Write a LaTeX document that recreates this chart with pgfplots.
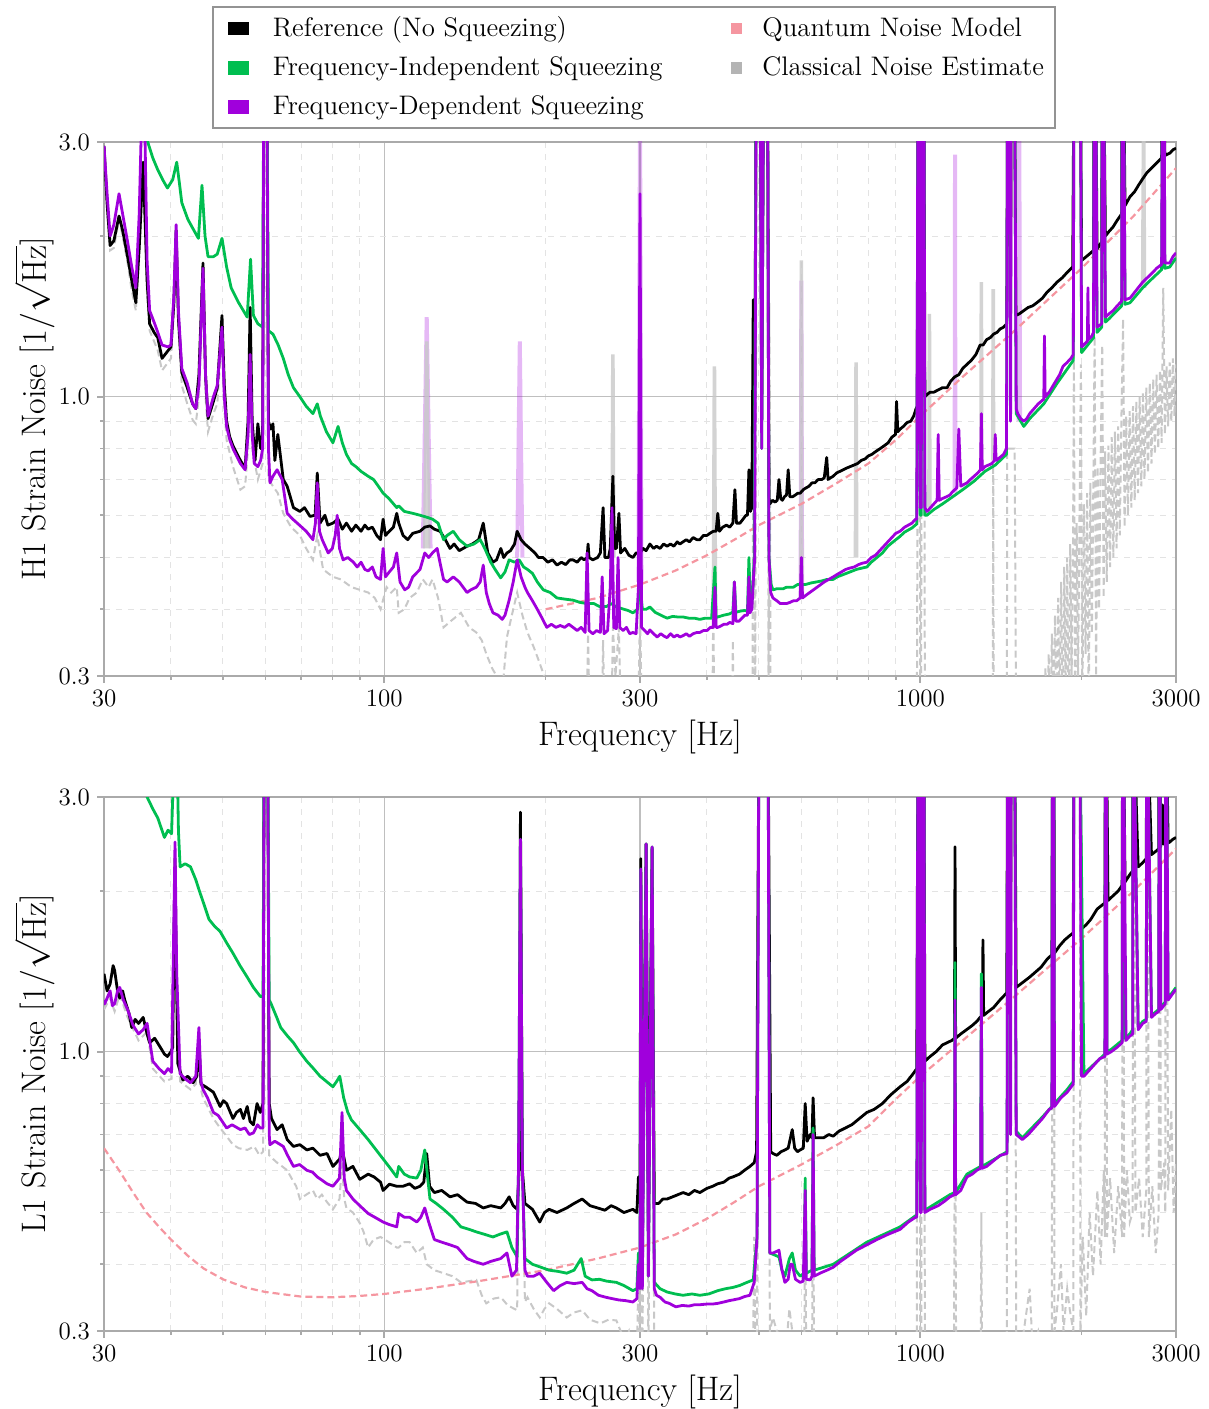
\documentclass[border=0pt]{standalone}
\usepackage{pgfplots}
\pgfplotsset{compat=1.18}
\definecolor{fis}{RGB}{0,190,80}
\definecolor{fds}{RGB}{160,0,220}
\definecolor{qn}{RGB}{245,150,160}
\definecolor{cn}{RGB}{200,200,200}
\definecolor{axgray}{RGB}{170,170,170}
\begin{document}
\begin{tikzpicture}
\path[use as bounding box] (0,0) rectangle (604.5pt,704.5pt);
% ================= H1 =================
\begin{axis}[
  scale only axis, width=536pt, height=267pt,
  xmode=log, ymode=log, xmin=30, xmax=3000, ymin=0.3, ymax=3,
  xtick={30,100,300,1000,3000}, xticklabels={30,100,300,1000,3000},
  ytick={0.3,1,3}, yticklabels={0.3,1.0,3.0},
  minor xtick={40,50,60,70,80,90,200,400,500,600,700,800,900,2000},
  minor ytick={0.4,0.5,0.6,0.7,0.8,0.9,2},
  grid=both,
  minor grid style={dashed, draw=gray!22, line width=0.5pt},
  major grid style={solid, draw=gray!50, line width=0.6pt},
  tick align=outside, xtick pos=bottom, ytick pos=left,
  major tick length=3.5pt, minor tick length=2pt,
  tick style={draw=axgray, line width=0.8pt},
  axis line style={draw=axgray, line width=1pt},
  tick label style={font=\fontsize{12.5}{14}\selectfont},
  label style={font=\fontsize{17}{20}\selectfont},
  xlabel={Frequency [Hz]},
  xlabel style={at={(axis description cs:0.5,-0.115)}, anchor=center},
  ylabel style={at={(axis description cs:-0.065,0.5)}, anchor=center, inner sep=0pt},
  unbounded coords=jump,
  at={(52pt,366.5pt)}, anchor=south west,
  ylabel={H1 Strain Noise [$1/\sqrt{\mathrm{Hz}}$]},
  legend columns=2,
  legend cell align=left,
  legend style={at={(axis description cs:0.1007,1.2547)}, anchor=north west,
    draw=gray!85, line width=0.9pt, fill=white, inner xsep=5.5pt, inner ysep=3pt,
    font=\fontsize{13.4}{16}\selectfont,
    nodes={inner xsep=0pt, inner ysep=2pt},
    row sep=4.5pt},
]
\addlegendimage{legend image code/.code={\path[draw=none] (-2.5pt,0pt) -- (0pt,0pt); \fill[black] (0pt,-3pt) rectangle (9.5pt,3pt); \path[draw=none] (9.5pt,0pt) -- (22pt,0pt);}}
\addlegendentry{Reference (No Squeezing)}
\addlegendimage{legend image code/.code={\path[draw=none] (-34.5pt,0pt) -- (0pt,0pt); \fill[qn] (0pt,-2.5pt) rectangle (5pt,2.5pt); \path[draw=none] (5pt,0pt) -- (15.5pt,0pt);}}
\addlegendentry{Quantum Noise Model}
\addlegendimage{legend image code/.code={\path[draw=none] (-2.5pt,0pt) -- (0pt,0pt); \fill[fis] (0pt,-3pt) rectangle (9.5pt,3pt); \path[draw=none] (9.5pt,0pt) -- (22pt,0pt);}}
\addlegendentry{Frequency-Independent Squeezing}
\addlegendimage{legend image code/.code={\path[draw=none] (-34.5pt,0pt) -- (0pt,0pt); \fill[cn!90!black] (0pt,-2.5pt) rectangle (5pt,2.5pt); \path[draw=none] (5pt,0pt) -- (15.5pt,0pt);}}
\addlegendentry{Classical Noise Estimate}
\addlegendimage{legend image code/.code={\path[draw=none] (-2.5pt,0pt) -- (0pt,0pt); \fill[fds] (0pt,-3pt) rectangle (9.5pt,3pt); \path[draw=none] (9.5pt,0pt) -- (22pt,0pt);}}
\addlegendentry{Frequency-Dependent Squeezing}

% faded line overlays
\addplot[fds, opacity=0.28, line width=2pt, forget plot] coordinates {
(118,0.52) (120,1.41) (122,0.52) (122,nan) (177,0.5) (179,1.27) (181,0.5) (181,nan)
(298,0.45) (300,3.5) (302,0.45) (302,nan) (598,0.42) (600,1.65) (602,0.42) (602,nan)
(1159,0.66) (1161,2.84) (1163,0.66) (1163,nan) (1525,0.9) (1530,3.5) (1535,0.9)};
\addplot[cn, opacity=0.8, line width=1.8pt, forget plot] coordinates {
(119,0.52) (120,1.27) (121,0.52) (121,nan) (266,0.5) (267,1.2) (268,0.5) (268,nan)
(411,0.37) (413,1.14) (415,0.37) (415,nan) (599,0.42) (600,1.8) (601,0.42) (601,nan)
(757,0.5) (759,1.16) (761,0.5) (761,nan) (1038,0.62) (1040,1.43) (1042,0.62) (1042,nan)
(1298,0.73) (1300,1.64) (1302,0.73) (1302,nan) (1366,0.76) (1368,1.59) (1370,0.76) (1370,nan)
(2600,1.6) (2610,3.5) (2620,1.6)};

% classical noise
\addplot[cn, line width=1pt, dash pattern=on 3.5pt off 2pt, forget plot] coordinates {
(30,2.9) (30.4,2.25) (30.8,1.88) (31.3,1.9) (32,2.15) (32.5,2.0) (33.2,1.78) (33.8,1.58) (34.4,1.45) (34.9,1.85) (35.5,2.6) (36.1,1.55) (36.5,1.33) (37.2,1.27) (37.8,1.22) (38.5,1.12) (39.5,1.16) (40,1.18) (40.5,1.45) (40.9,1.9) (41.3,1.35) (41.9,1.05) (42.9,0.97) (43.9,0.905) (44.5,0.89) (45.1,1.0) (45.9,1.6) (46.4,1.0) (46.9,0.86) (48,0.93) (48.8,0.97) (49.8,1.3) (50.3,0.95) (50.8,0.83) (52.2,0.74) (53.9,0.67) (55,0.68) (55.7,0.8) (56.2,1.2) (56.7,0.8) (58.1,0.70) (59.3,0.75) (59.6,4) (60.4,4) (60.8,0.7) (62,0.68) (63.3,0.66) (64.8,0.605) (67,0.57) (69.6,0.55) (71.5,0.52) (73.6,0.495) (75,0.55) (76.9,0.475) (80.2,0.46) (83,0.455) (86.9,0.44) (90,0.435) (93.3,0.43) (96,0.42) (98.4,0.40) (101,0.44) (103,0.43) (105.5,0.44) (106.4,0.394) (109,0.4) (111.5,0.42) (115,0.43) (118,0.455) (121,0.44) (123,0.455) (126,0.42) (129,0.37) (133,0.38) (139,0.394) (144,0.37) (148.5,0.362) (152,0.35) (155,0.33) (159,0.31) (162,0.30) (165,0.27) (167,0.3) (169.4,0.355) (173,0.39) (177,0.43) (181,0.39) (185,0.362) (190,0.34) (195,0.317) (201,0.29) (206,0.26) (210,0.22) (238,0.22) (240,0.36) (242,0.22) (254,0.22) (256,0.35) (258,0.22) (265,0.22) (267,0.37) (270,0.3) (274,0.37) (277,0.22) (297,0.22) (300,0.4) (303,0.22) (409,0.22) (411,0.42) (413,0.22) (445,0.22) (447,0.35) (449,0.22) (486,0.22) (489,1.5) (492,0.22) (495,4) (519,4) (521,0.22) (523,1.5) (526,0.22) (985,0.22) (988,0.6) (991,4) (996,4) (1000,0.22) (1003,0.22) (1008,4) (1016,4) (1020,0.22) (1365,0.22) (1368,0.75) (1371,0.22) (1450,0.22) (1453,0.8) (1470,0.8) (1478,0.8) (1500,0.8) (1510,0.22) (1700,0.22) (1712,0.31) (1724,0.24) (1736,0.33) (1748,0.22) (1760,0.36) (1772,0.25) (1784,0.39) (1796,0.22) (1808,0.42) (1820,0.26) (1832,0.45) (1844,0.22) (1856,0.48) (1868,0.28) (1880,0.5) (1892,0.22) (1904,0.53) (1916,0.3) (1928,0.55) (1935,1.2) (1945,0.25) (1958,0.58) (1970,0.3) (1982,0.6) (1994,1.15) (2006,0.25) (2020,0.63) (2034,0.33) (2048,0.66) (2062,0.25) (2076,0.69) (2090,0.36) (2104,0.71) (2115,1.3) (2128,0.3) (2142,0.74) (2156,0.4) (2170,0.76) (2185,1.25) (2198,0.42) (2212,0.79) (2228,0.45) (2244,0.81) (2260,0.48) (2276,0.84) (2292,0.5) (2308,0.86) (2324,0.52) (2340,0.88) (2356,0.55) (2372,0.9) (2390,1.4) (2405,0.57) (2422,0.92) (2440,0.6) (2458,0.94) (2476,0.62) (2494,0.96) (2512,0.64) (2530,0.98) (2548,0.66) (2566,1.0) (2584,0.68) (2602,1.02) (2620,0.7) (2640,1.04) (2660,0.72) (2680,1.06) (2700,0.75) (2720,1.08) (2740,0.78) (2760,1.1) (2780,0.8) (2800,1.12) (2820,0.82) (2840,1.6) (2860,0.85) (2880,1.14) (2900,0.88) (2920,1.16) (2940,0.9) (2960,1.18) (2980,0.92) (3000,1.15)};

% quantum noise model
\addplot[qn, line width=1.1pt, dash pattern=on 3.5pt off 2pt, forget plot] coordinates {
(200,0.40) (250,0.42) (300,0.445) (350,0.473) (400,0.505) (450,0.54) (500,0.575) (600,0.63) (700,0.69) (800,0.75) (900,0.83) (1000,0.92) (1200,1.09) (1500,1.33) (2000,1.74) (2500,2.18) (3000,2.68)};

% reference
\addplot[black, line width=1.4pt, line join=round, forget plot] coordinates {
(30,2.95) (30.4,2.3) (30.8,1.92) (31.3,1.96) (32,2.18) (32.5,2.05) (33.2,1.83) (33.8,1.65) (34.4,1.5) (34.9,1.9) (35.5,2.75) (36.1,1.65) (36.5,1.37) (37.2,1.32) (37.8,1.29) (38.5,1.18) (39.5,1.22) (40,1.24) (40.5,1.5) (40.9,2.05) (41.3,1.4) (41.9,1.11) (42.9,1.04) (43.9,0.97) (44.5,0.95) (45.1,1.1) (45.9,1.78) (46.4,1.1) (46.9,0.91) (48,0.98) (48.8,1.04) (49.8,1.42) (50.3,1.05) (50.8,0.90) (51.5,0.84) (52.2,0.81) (53.9,0.76) (55,0.735) (55.7,0.9) (56.2,1.47) (56.7,0.9) (57.4,0.76) (58.1,0.89) (58.8,0.8) (59.3,0.85) (59.6,4) (60.4,4) (60.8,0.9) (61.4,0.87) (62,0.89) (62.5,0.76) (63.3,0.85) (64.8,0.70) (65.9,0.68) (67.7,0.62) (69.6,0.61) (71,0.62) (72.7,0.597) (74.3,0.6) (75,0.72) (75.9,0.58) (77.5,0.6) (78.5,0.575) (80.2,0.58) (82,0.59) (83.5,0.565) (85,0.58) (86.9,0.56) (88.5,0.575) (90.5,0.56) (92,0.575) (93.3,0.565) (95,0.57) (96.8,0.55) (98.4,0.54) (99.5,0.59) (100.5,0.55) (102.2,0.56) (104,0.57) (105.5,0.605) (106.4,0.58) (108.4,0.55) (110.6,0.54) (113,0.555) (116.6,0.56) (119,0.57) (121.7,0.573) (124,0.565) (127.1,0.56) (130,0.54) (132.6,0.52) (135,0.53) (138,0.515) (142.7,0.525) (146,0.53) (150,0.54) (153,0.58) (156,0.51) (159.5,0.49) (162,0.495) (165,0.52) (167,0.5) (169.4,0.51) (172,0.515) (175,0.53) (177,0.56) (180,0.54) (183,0.53) (187,0.52) (191,0.51) (194,0.5) (197.8,0.50) (202,0.49) (206,0.495) (210,0.484) (214,0.49) (218,0.485) (222,0.495) (225,0.495) (229,0.49) (233,0.5) (236,0.495) (239,0.5) (240,0.53) (241,0.5) (245,0.495) (250,0.5) (253,0.51) (256,0.62) (258,0.5) (262,0.50) (264,0.52) (267,0.71) (269,0.52) (271,0.52) (274,0.605) (276,0.51) (281,0.52) (286,0.505) (291,0.50) (295,0.51) (300,0.51) (304,0.52) (308,0.515) (313,0.53) (318,0.52) (322,0.525) (327,0.52) (332,0.53) (337,0.525) (342,0.53) (347,0.525) (352,0.535) (356,0.53) (361,0.535) (366,0.54) (371,0.535) (377,0.545) (383,0.54) (388,0.54) (394,0.55) (400,0.55) (405,0.555) (411,0.56) (416,0.56) (419,0.605) (422,0.56) (428,0.57) (435,0.575) (441,0.57) (447,0.58) (451,0.67) (454,0.58) (461,0.58) (467,0.59) (473,0.6) (476,0.6) (479,0.73) (482,0.61) (485,0.62) (488,1.52) (491,0.9) (494,4) (503,4) (506,0.9) (510,4) (519,4) (522,0.65) (524,0.63) (530,0.64) (536,0.635) (541,0.64) (545,0.70) (549,0.645) (553,0.64) (558,0.65) (563,0.655) (567,0.73) (571,0.65) (578,0.65) (585,0.655) (591,0.66) (597,0.66) (605,0.67) (612,0.675) (620,0.68) (628,0.69) (636,0.69) (645,0.7) (655,0.70) (662,0.705) (669,0.77) (673,0.7) (680,0.705) (688,0.71) (698,0.72) (708,0.725) (718,0.73) (728,0.735) (740,0.74) (752,0.745) (764,0.75) (776,0.76) (789,0.765) (800,0.775) (812,0.78) (826,0.79) (842,0.80) (857,0.81) (871,0.82) (885,0.84) (899,0.85) (903,0.98) (908,0.86) (917,0.87) (930,0.88) (945,0.895) (960,0.9) (972,0.92) (982,0.95) (987,0.96) (990,4) (996,4) (1000,0.97) (1004,0.98) (1008,4) (1016,4) (1020,1.0) (1030,1.01) (1043,1.02) (1060,1.02) (1080,1.03) (1100,1.04) (1122,1.04) (1140,1.07) (1160,1.09) (1180,1.1) (1200,1.13) (1222,1.15) (1245,1.17) (1270,1.2) (1293,1.25) (1310,1.25) (1330,1.28) (1350,1.29) (1370,1.31) (1390,1.32) (1410,1.34) (1430,1.35) (1450,1.37) (1455,4) (1470,4) (1474,1.4) (1478,4) (1500,4) (1508,1.42) (1530,1.43) (1560,1.45) (1590,1.47) (1620,1.48) (1650,1.5) (1690,1.53) (1724,1.57) (1760,1.6) (1800,1.64) (1840,1.67) (1880,1.71) (1902,1.73) (1925,1.75) (1935,4) (1990,4) (2000,1.8) (2040,1.83) (2080,1.86) (2105,1.88) (2110,4) (2125,4) (2137,1.89) (2180,1.95) (2185,4) (2200,4) (2215,2.0) (2250,2.04) (2289,2.08) (2330,2.14) (2375,2.2) (2380,4) (2395,4) (2410,2.28) (2462,2.37) (2510,2.42) (2560,2.5) (2600,2.56) (2649,2.63) (2700,2.68) (2760,2.74) (2820,2.8) (2830,4) (2850,4) (2860,2.83) (2923,2.86) (2960,2.9) (3000,2.92)};

% frequency-independent
\addplot[fis, line width=1.4pt, line join=round, forget plot] coordinates {
(30,5) (33,4) (35.5,3.4) (36.2,3.0) (37,2.8) (37.8,2.66) (38.6,2.55) (39.4,2.46) (40.3,2.55) (41,2.75) (41.5,2.5) (41.9,2.31) (43,2.15) (43.9,2.07) (45,1.98) (45.7,2.49) (46.3,2.0) (46.9,1.83) (48,1.83) (48.8,1.85) (49.8,1.98) (50.8,1.75) (51.8,1.60) (53.5,1.5) (55.5,1.41) (56.3,1.81) (57,1.42) (58.1,1.37) (59.3,1.35) (59.6,4) (60.4,4) (60.8,1.33) (62,1.31) (63.4,1.25) (64.8,1.18) (66.2,1.1) (67.7,1.04) (69.6,1.0) (71.5,0.96) (73.6,0.93) (75,0.97) (76,0.92) (78,0.86) (80.2,0.82) (82,0.88) (83.5,0.82) (85,0.78) (86.9,0.75) (88.5,0.74) (90.5,0.725) (93.3,0.71) (95.5,0.7) (97.5,0.68) (99.5,0.66) (102,0.645) (105.5,0.62) (106.4,0.625) (109,0.61) (113,0.605) (116.6,0.60) (120,0.595) (123,0.59) (126,0.58) (129,0.54) (131,0.55) (134.5,0.56) (138,0.54) (142.7,0.525) (147,0.53) (151,0.54) (154,0.52) (158,0.49) (161,0.475) (164.9,0.458) (168,0.47) (171,0.495) (175,0.49) (178.5,0.495) (182,0.48) (185,0.475) (189,0.467) (193,0.45) (198,0.435) (204,0.43) (210,0.42) (217,0.418) (225,0.416) (232,0.412) (239,0.41) (246,0.41) (253,0.404) (260,0.405) (265,0.41) (271,0.404) (280,0.4) (285,0.398) (291,0.394) (297,0.4) (300,0.45) (303,0.4) (308,0.4) (313,0.404) (320,0.395) (328,0.39) (337,0.385) (345,0.388) (353,0.387) (361,0.387) (370,0.385) (379,0.385) (388,0.383) (397,0.385) (408,0.385) (414,0.48) (416,0.386) (419,0.387) (430,0.39) (440,0.392) (447,0.395) (450,0.45) (453,0.395) (462,0.397) (470,0.398) (476,0.397) (479,0.50) (482,0.4) (486,0.42) (490,0.5) (494,4) (503,4) (506,0.8) (510,4) (519,4) (522,0.5) (527,0.445) (531,0.435) (540,0.437) (548,0.437) (555,0.437) (563,0.44) (572,0.44) (580,0.44) (590,0.445) (597,0.445) (610,0.445) (625,0.448) (640,0.45) (655,0.452) (670,0.455) (688,0.455) (700,0.46) (720,0.465) (740,0.47) (760,0.475) (780,0.478) (795,0.48) (810,0.49) (830,0.5) (850,0.51) (870,0.525) (890,0.535) (917,0.548) (935,0.558) (950,0.563) (965,0.568) (985,0.578) (990,4) (996,4) (1000,0.6) (1004,0.6) (1008,4) (1016,4) (1020,0.6) (1029,0.6) (1060,0.615) (1100,0.63) (1150,0.65) (1200,0.67) (1260,0.695) (1320,0.725) (1380,0.745) (1448,0.78) (1455,4) (1500,4) (1510,0.93) (1560,0.88) (1600,0.91) (1700,0.97) (1800,1.06) (1930,1.17) (1935,4) (1990,4) (2000,1.21) (2105,1.29) (2110,4) (2125,4) (2137,1.32) (2180,1.35) (2185,4) (2200,4) (2215,1.38) (2250,1.4) (2375,1.48) (2380,4) (2395,4) (2410,1.49) (2462,1.5) (2600,1.6) (2700,1.66) (2820,1.73) (2830,4) (2850,4) (2860,1.74) (2920,1.75) (3000,1.82)};

% frequency-dependent
\addplot[fds, line width=1.4pt, line join=round, forget plot] coordinates {
(30,2.95) (30.4,2.4) (30.8,2.0) (31.3,2.1) (32,2.4) (32.5,2.2) (33.2,1.95) (33.8,1.75) (34.4,1.6) (34.9,2.2) (35.3,3.5) (35.7,3.5) (36.1,1.8) (36.5,1.45) (37.2,1.38) (37.8,1.32) (38.5,1.25) (39.5,1.24) (40,1.25) (40.5,1.55) (40.9,2.1) (41.3,1.45) (41.9,1.13) (42.9,1.06) (43.9,0.97) (44.5,0.95) (45.1,1.05) (45.9,1.74) (46.4,1.1) (46.9,0.92) (48,1.0) (48.8,1.05) (49.8,1.35) (50.3,1.0) (50.8,0.88) (51.5,0.83) (52.2,0.80) (53.9,0.75) (55,0.73) (55.7,0.85) (56.2,1.2) (56.7,0.85) (57.2,0.75) (58.1,0.74) (58.8,0.76) (59.3,0.8) (59.6,4) (60.4,4) (60.8,0.8) (61.2,0.69) (62,0.71) (63.1,0.73) (64.5,0.70) (65.9,0.605) (67.5,0.59) (69.6,0.574) (71.5,0.56) (73.6,0.54) (74.4,0.58) (75,0.69) (75.7,0.56) (76.6,0.54) (78.6,0.51) (80,0.52) (81,0.55) (81.7,0.60) (82.5,0.52) (83.8,0.495) (85.5,0.5) (87.6,0.49) (89,0.48) (90.5,0.49) (92,0.475) (93.3,0.472) (95,0.48) (96.5,0.46) (98.4,0.455) (99.5,0.52) (100.5,0.46) (102.2,0.47) (104,0.48) (105.5,0.51) (107,0.45) (109.2,0.435) (111,0.44) (113,0.46) (116.6,0.475) (119,0.51) (121,0.5) (123,0.51) (125.5,0.52) (127,0.49) (129,0.455) (131,0.45) (134.5,0.46) (138,0.45) (142.7,0.43) (145,0.435) (148.5,0.44) (151,0.45) (153,0.484) (155,0.43) (157,0.41) (159.5,0.394) (163,0.39) (166,0.383) (168,0.39) (171,0.416) (174,0.45) (177,0.495) (180,0.46) (183,0.44) (185,0.43) (189,0.415) (193,0.40) (197,0.385) (201,0.37) (205,0.375) (209,0.37) (213,0.373) (217,0.37) (221,0.375) (225,0.37) (229,0.365) (233,0.37) (237,0.362) (239,0.51) (241,0.365) (245,0.36) (249,0.365) (253,0.362) (255,0.46) (257,0.36) (261,0.365) (264,0.44) (266,0.62) (268,0.37) (271,0.368) (273,0.5) (275,0.37) (279,0.365) (283,0.37) (287,0.36) (291,0.362) (295,0.36) (298,0.44) (300,2.4) (302,0.37) (306,0.365) (310,0.36) (313,0.366) (318,0.36) (323,0.355) (328,0.36) (333,0.356) (337,0.354) (342,0.36) (347,0.355) (352,0.358) (356,0.355) (361,0.357) (366,0.36) (371,0.356) (377,0.36) (383,0.362) (388,0.362) (394,0.365) (400,0.365) (406,0.37) (411,0.37) (414,0.44) (416,0.37) (419,0.37) (424,0.372) (430,0.375) (436,0.375) (441,0.378) (447,0.376) (450,0.45) (453,0.38) (459,0.38) (465,0.385) (471,0.39) (476,0.39) (479,0.46) (481,0.394) (485,0.4) (488,0.45) (491,0.5) (494,4) (503,4) (506,0.8) (510,4) (519,4) (522,0.5) (526,0.43) (531,0.42) (540,0.415) (548,0.41) (555,0.41) (563,0.41) (571,0.412) (580,0.415) (588,0.415) (597,0.42) (600,0.5) (603,0.42) (612,0.425) (622,0.43) (632,0.435) (642,0.44) (652,0.445) (662,0.45) (675,0.455) (688,0.46) (700,0.465) (713,0.47) (726,0.475) (740,0.478) (753,0.48) (767,0.485) (780,0.488) (795,0.49) (810,0.5) (825,0.505) (840,0.515) (855,0.525) (870,0.535) (885,0.545) (900,0.555) (917,0.56) (935,0.57) (950,0.575) (965,0.58) (980,0.59) (985,0.59) (990,4) (996,4) (1000,0.62) (1004,0.62) (1008,4) (1016,4) (1020,0.62) (1029,0.61) (1045,0.62) (1060,0.63) (1075,0.64) (1080,0.85) (1085,0.64) (1100,0.645) (1120,0.65) (1136,0.655) (1150,0.665) (1170,0.675) (1180,0.87) (1190,0.68) (1205,0.685) (1222,0.69) (1240,0.70) (1260,0.71) (1280,0.72) (1295,0.73) (1300,0.93) (1305,0.73) (1320,0.74) (1340,0.745) (1360,0.75) (1375,0.76) (1380,0.85) (1385,0.76) (1408,0.77) (1430,0.78) (1448,0.8) (1455,4) (1470,4) (1474,0.9) (1478,4) (1500,4) (1510,0.95) (1520,0.93) (1540,0.91) (1560,0.90) (1580,0.91) (1600,0.93) (1630,0.95) (1660,0.97) (1700,0.99) (1705,1.3) (1710,1.0) (1740,1.02) (1780,1.06) (1820,1.1) (1846,1.14) (1880,1.16) (1910,1.18) (1930,1.2) (1935,4) (1990,4) (2000,1.24) (2050,1.27) (2055,1.6) (2060,1.28) (2090,1.3) (2105,1.32) (2110,4) (2125,4) (2137,1.35) (2180,1.37) (2185,4) (2200,4) (2215,1.41) (2250,1.43) (2290,1.45) (2330,1.48) (2375,1.51) (2380,4) (2395,4) (2410,1.52) (2462,1.53) (2500,1.56) (2550,1.6) (2600,1.64) (2650,1.67) (2700,1.7) (2760,1.74) (2820,1.77) (2830,4) (2850,4) (2860,1.78) (2920,1.78) (2960,1.83) (3000,1.86)};
\node[anchor=south west, inner sep=1pt, yshift=2pt, font=\fontsize{12.5}{14}\selectfont] at (rel axis cs:0,1) {$\times10^{-23}$};
\end{axis}

% ================= L1 =================
\begin{axis}[
  scale only axis, width=536pt, height=267pt,
  xmode=log, ymode=log, xmin=30, xmax=3000, ymin=0.3, ymax=3,
  xtick={30,100,300,1000,3000}, xticklabels={30,100,300,1000,3000},
  ytick={0.3,1,3}, yticklabels={0.3,1.0,3.0},
  minor xtick={40,50,60,70,80,90,200,400,500,600,700,800,900,2000},
  minor ytick={0.4,0.5,0.6,0.7,0.8,0.9,2},
  grid=both,
  minor grid style={dashed, draw=gray!22, line width=0.5pt},
  major grid style={solid, draw=gray!50, line width=0.6pt},
  tick align=outside, xtick pos=bottom, ytick pos=left,
  major tick length=3.5pt, minor tick length=2pt,
  tick style={draw=axgray, line width=0.8pt},
  axis line style={draw=axgray, line width=1pt},
  tick label style={font=\fontsize{12.5}{14}\selectfont},
  label style={font=\fontsize{17}{20}\selectfont},
  xlabel={Frequency [Hz]},
  xlabel style={at={(axis description cs:0.5,-0.115)}, anchor=center},
  ylabel style={at={(axis description cs:-0.065,0.5)}, anchor=center, inner sep=0pt},
  unbounded coords=jump,
  at={(52pt,39pt)}, anchor=south west,
  ylabel={L1 Strain Noise [$1/\sqrt{\mathrm{Hz}}$]},
]
% classical noise
\addplot[cn, line width=1pt, dash pattern=on 3.5pt off 2pt, forget plot] coordinates {
(30,1.2) (30.8,1.26) (31.4,1.19) (32.1,1.28) (33.2,1.16) (34.8,1.05) (36.1,1.09) (37,0.93) (38.9,0.88) (40.1,0.89) (40.4,1.4) (40.7,2.4) (41,1.3) (41.6,0.88) (43.5,0.85) (44.5,0.87) (45.1,1.08) (45.5,0.85) (45.9,0.82) (46.8,0.79) (48,0.75) (49.4,0.72) (50.5,0.7) (52.2,0.67) (53.5,0.66) (55.5,0.655) (57.2,0.665) (58.5,0.64) (59.4,0.65) (59.7,4) (60.6,4) (61,0.64) (62,0.63) (63.1,0.62) (64.5,0.61) (65.9,0.6) (67.3,0.577) (68.5,0.56) (69.6,0.53) (71.5,0.54) (73.6,0.55) (75,0.53) (76.5,0.54) (78.2,0.523) (80.2,0.507) (82.5,0.53) (83.4,0.62) (84.2,0.53) (85,0.51) (87.4,0.5) (90,0.478) (91.5,0.46) (93.3,0.43) (95.5,0.445) (98.4,0.45) (102,0.44) (105.5,0.43) (106.4,0.43) (109,0.44) (111.5,0.44) (115,0.42) (118,0.43) (120,0.40) (124,0.39) (129,0.385) (134,0.38) (139,0.37) (144,0.372) (148.5,0.374) (152,0.35) (155,0.338) (160,0.345) (165,0.347) (170,0.335) (177,0.328) (178,0.6) (179.5,2.4) (181,0.6) (183,0.34) (185,0.347) (190,0.33) (195,0.318) (199,0.33) (203,0.338) (210,0.33) (219,0.318) (226,0.325) (234,0.328) (242,0.315) (253,0.31) (262,0.315) (271,0.314) (276,0.3) (281,0.29) (286,0.3) (291,0.27) (296,0.26) (298,0.4) (300,0.26) (301,2.2) (303,0.26) (308,2.4) (311,0.26) (316,2.4) (319,0.26) (330,0.27) (350,0.25) (400,0.25) (487,0.25) (490,0.45) (493,0.25) (496,0.3) (500,4) (520,4) (524,0.3) (531,0.318) (540,0.3) (553,0.29) (560,0.27) (570,0.33) (577,0.3) (585,0.25) (607,0.25) (610,0.5) (613,0.25) (628,0.25) (631,0.6) (634,0.25) (980,0.25) (985,0.3) (990,4) (996,4) (1000,0.25) (1004,0.25) (1008,4) (1016,4) (1020,0.25) (1155,0.25) (1158,0.45) (1161,1.2) (1164,0.45) (1167,0.25) (1296,0.25) (1300,0.5) (1304,0.25) (1440,0.25) (1450,0.3) (1455,4) (1500,4) (1510,0.3) (1530,0.28) (1560,0.3) (1600,0.36) (1620,0.28) (1660,0.3) (1700,0.27) (1750,0.3) (1760,0.3) (1765,4) (1775,4) (1780,0.3) (1800,0.33) (1830,0.4) (1850,0.3) (1880,0.36) (1900,0.33) (1930,0.3) (1935,4) (1985,4) (1990,0.3) (2010,0.45) (2040,0.32) (2070,0.5) (2100,0.38) (2140,0.55) (2170,0.4) (2200,0.6) (2210,0.45) (2215,4) (2225,4) (2230,0.45) (2260,0.58) (2300,0.42) (2340,0.56) (2380,0.45) (2385,4) (2395,4) (2400,0.45) (2430,0.6) (2460,0.48) (2490,0.5) (2495,4) (2505,4) (2520,0.5) (2560,0.58) (2600,0.45) (2640,0.55) (2645,4) (2655,4) (2670,0.45) (2710,0.56) (2750,0.42) (2785,0.5) (2790,4) (2800,4) (2810,0.55) (2850,0.62) (2865,0.5) (2870,4) (2880,4) (2900,0.55) (2940,0.78) (2970,0.5) (3000,0.62)};

% quantum noise model
\addplot[qn, line width=1.1pt, dash pattern=on 3.5pt off 2pt, forget plot] coordinates {
(30,0.66) (32,0.60) (34,0.545) (36,0.50) (38,0.47) (40,0.445) (43,0.415) (46,0.393) (50,0.375) (55,0.362) (60,0.355) (70,0.348) (80,0.347) (90,0.349) (100,0.352) (120,0.36) (150,0.372) (200,0.39) (250,0.41) (300,0.43) (350,0.455) (400,0.487) (450,0.523) (500,0.56) (600,0.615) (700,0.67) (800,0.725) (900,0.815) (1000,0.90) (1200,1.05) (1500,1.27) (2000,1.63) (2500,2.0) (3000,2.4)};

% reference
\addplot[black, line width=1.4pt, line join=round, forget plot] coordinates {
(30,1.40) (30.4,1.30) (30.8,1.34) (31.2,1.45) (31.4,1.42) (31.8,1.30) (32.1,1.26) (32.5,1.3) (32.8,1.25) (33.4,1.18) (33.8,1.11) (34.3,1.15) (34.8,1.13) (35.5,1.16) (36.1,1.08) (36.5,1.04) (37.3,1.06) (38.2,1.02) (38.9,0.99) (39.4,0.98) (40,1.0) (40.3,1.02) (40.5,1.6) (40.7,2.3) (40.9,1.5) (41.2,0.95) (42.1,0.885) (43,0.90) (44,0.875) (44.7,0.9) (45.1,1.05) (45.5,0.87) (46.4,0.86) (47.2,0.85) (48,0.84) (49.4,0.79) (50.1,0.81) (50.8,0.80) (52.2,0.75) (53,0.77) (53.9,0.78) (54.6,0.75) (55.5,0.79) (56.2,0.74) (57,0.73) (57.9,0.80) (58.7,0.77) (59.4,0.8) (59.7,4) (60.6,4) (61,0.8) (61.6,0.75) (63.1,0.715) (64.5,0.73) (65.9,0.685) (67.7,0.665) (69.6,0.67) (71.7,0.655) (73.6,0.66) (75.9,0.64) (78.2,0.645) (80.2,0.61) (82.6,0.63) (83.4,0.66) (85,0.60) (87.4,0.61) (90,0.577) (93.3,0.59) (95.7,0.583) (98.4,0.57) (99.5,0.55) (102.2,0.565) (105.5,0.56) (108.4,0.56) (111.5,0.566) (114,0.555) (116.6,0.56) (118.5,0.57) (120,0.645) (121.5,0.56) (124,0.545) (128,0.55) (132.6,0.535) (137,0.54) (142.7,0.523) (148,0.52) (153,0.51) (158,0.515) (164.9,0.51) (168,0.52) (171,0.535) (174,0.515) (177,0.507) (178.5,0.6) (179.5,2.81) (181,0.6) (183,0.52) (189,0.507) (195,0.48) (199,0.5) (203,0.507) (210,0.5) (219,0.51) (226,0.52) (234,0.53) (242,0.515) (250,0.51) (258,0.505) (265,0.515) (271,0.51) (280,0.5) (291,0.507) (296,0.5) (298,0.583) (300,0.52) (301,2.3) (303,0.5) (308,2.45) (311,0.5) (316,2.4) (319,0.52) (325,0.52) (331,0.53) (337,0.53) (345,0.535) (353,0.54) (361,0.545) (370,0.54) (379,0.55) (388,0.545) (400,0.555) (410,0.56) (419,0.566) (430,0.57) (440,0.58) (447,0.583) (460,0.59) (470,0.6) (481,0.61) (490,0.62) (495,0.65) (500,4) (520,4) (526,0.65) (531,0.645) (540,0.64) (550,0.65) (559,0.655) (567,0.66) (577,0.715) (583,0.66) (590,0.65) (597,0.655) (605,0.66) (610,0.80) (615,0.68) (623,0.70) (628,0.69) (631,0.82) (635,0.69) (645,0.69) (660,0.69) (675,0.7) (688,0.695) (705,0.71) (725,0.72) (745,0.73) (770,0.75) (795,0.77) (820,0.78) (850,0.80) (880,0.83) (917,0.86) (945,0.88) (970,0.91) (985,0.93) (990,4) (996,4) (1000,0.94) (1004,0.95) (1008,4) (1016,4) (1020,0.96) (1043,0.98) (1070,1.0) (1100,1.03) (1122,1.04) (1145,1.05) (1158,1.06) (1161,2.42) (1164,1.06) (1190,1.08) (1220,1.1) (1250,1.12) (1275,1.14) (1293,1.16) (1305,1.17) (1309,1.62) (1313,1.17) (1340,1.19) (1370,1.21) (1408,1.25) (1440,1.28) (1450,1.29) (1455,4) (1470,4) (1474,1.3) (1478,4) (1500,4) (1510,1.32) (1540,1.34) (1570,1.36) (1600,1.38) (1640,1.41) (1680,1.44) (1724,1.49) (1760,1.52) (1765,4) (1775,4) (1780,1.53) (1820,1.58) (1860,1.62) (1900,1.65) (1930,1.67) (1935,4) (1985,4) (2000,1.7) (2040,1.73) (2080,1.77) (2137,1.85) (2180,1.88) (2210,1.9) (2215,4) (2225,4) (2240,1.92) (2289,1.96) (2340,2.0) (2380,2.05) (2385,4) (2395,4) (2410,2.08) (2462,2.15) (2490,2.18) (2495,4) (2505,4) (2550,2.22) (2600,2.26) (2640,2.3) (2645,4) (2655,4) (2700,2.34) (2760,2.38) (2785,2.4) (2790,4) (2800,4) (2810,2.42) (2830,2.9) (2840,2.45) (2865,2.45) (2870,4) (2880,4) (2900,2.46) (2920,2.47) (2960,2.5) (3000,2.52)};

% frequency-independent
\addplot[fis, line width=1.4pt, line join=round, forget plot] coordinates {
(30,5) (34,4) (36.1,3.0) (37,2.85) (37.8,2.74) (38.9,2.52) (39.5,2.6) (40.1,2.56) (40.5,3.5) (41,4) (41.3,2.6) (41.6,2.22) (42.5,2.25) (43.5,2.22) (44.5,2.1) (45.2,2.0) (46,1.9) (47.1,1.77) (48.2,1.72) (49.4,1.68) (50.8,1.6) (52.2,1.53) (53.8,1.45) (55.5,1.38) (57,1.32) (58.7,1.27) (59.4,1.27) (59.7,4) (60.6,4) (61,1.25) (61.5,1.23) (63,1.16) (64.1,1.11) (66,1.07) (67.7,1.04) (69.5,1.0) (71.7,0.96) (73.8,0.93) (75.9,0.90) (78,0.88) (80.2,0.86) (81.5,0.88) (82.6,0.90) (84,0.82) (85.5,0.77) (86.9,0.745) (90,0.715) (93.3,0.685) (96,0.66) (99.5,0.63) (102,0.61) (105.5,0.583) (106.4,0.61) (109,0.59) (111.5,0.583) (115,0.58) (117,0.6) (119,0.655) (120.5,0.58) (121.7,0.53) (125,0.52) (129,0.507) (134,0.49) (139,0.47) (144,0.465) (148.5,0.46) (154,0.455) (159.5,0.45) (164,0.455) (169.4,0.46) (173,0.43) (177,0.413) (178,0.6) (179.5,2.5) (181,0.6) (183,0.41) (189,0.40) (196,0.395) (203,0.39) (211,0.388) (219,0.385) (226,0.39) (233,0.41) (237,0.38) (244,0.374) (252,0.375) (260,0.372) (271,0.37) (280,0.365) (291,0.357) (296,0.36) (298,0.42) (300,0.37) (301,2.2) (303,0.37) (308,2.45) (311,0.38) (316,2.42) (319,0.37) (327,0.36) (337,0.355) (349,0.352) (361,0.35) (375,0.352) (388,0.35) (403,0.352) (419,0.357) (433,0.36) (447,0.362) (460,0.365) (475,0.37) (488,0.374) (496,0.45) (500,4) (520,4) (524,0.42) (545,0.413) (552,0.39) (559,0.38) (570,0.41) (577,0.42) (585,0.39) (597,0.38) (607,0.385) (610,0.58) (613,0.385) (628,0.39) (631,0.72) (634,0.39) (688,0.40) (795,0.44) (917,0.47) (985,0.495) (990,4) (996,4) (1000,0.505) (1004,0.505) (1008,4) (1016,4) (1020,0.505) (1136,0.54) (1158,0.545) (1161,1.47) (1164,0.545) (1222,0.59) (1296,0.61) (1300,1.4) (1304,0.61) (1452,0.65) (1455,4) (1500,4) (1510,0.71) (1550,0.69) (1690,0.755) (1760,0.79) (1765,4) (1775,4) (1780,0.8) (1880,0.85) (1930,0.88) (1935,4) (1985,4) (2020,0.91) (2210,0.99) (2215,4) (2225,4) (2230,1.0) (2270,1.01) (2380,1.05) (2385,4) (2395,4) (2410,1.06) (2460,1.08) (2490,1.1) (2495,4) (2505,4) (2550,1.11) (2600,1.14) (2640,1.15) (2645,4) (2655,4) (2700,1.17) (2785,1.2) (2790,4) (2800,4) (2810,1.21) (2865,1.24) (2870,4) (2880,4) (2900,1.26) (3000,1.32)};

% frequency-dependent
\addplot[fds, line width=1.4pt, line join=round, forget plot] coordinates {
(30,1.25) (30.1,1.23) (30.5,1.27) (30.8,1.30) (31.1,1.22) (31.4,1.23) (31.8,1.3) (32.1,1.32) (32.6,1.25) (33.2,1.20) (34,1.12) (34.8,1.08) (35.5,1.1) (36.1,1.13) (37,0.96) (38,0.93) (38.9,0.91) (39.5,0.93) (40.1,0.915) (40.4,1.5) (40.7,2.47) (41,1.4) (41.6,0.91) (42.5,0.89) (43.5,0.875) (44.5,0.9) (45.1,1.11) (45.5,0.88) (45.9,0.85) (46.8,0.82) (48,0.77) (49,0.76) (50.8,0.72) (52,0.73) (53.9,0.715) (55,0.72) (56,0.70) (57,0.705) (58,0.73) (58.7,0.72) (59.4,0.72) (59.7,4) (60.6,4) (61,0.7) (61.2,0.67) (62.5,0.68) (64.8,0.665) (66,0.64) (67.7,0.61) (69.5,0.615) (71.7,0.60) (73.5,0.595) (75,0.583) (76.5,0.575) (78.2,0.566) (80.2,0.56) (82.5,0.58) (83.4,0.77) (84.2,0.58) (85,0.55) (87.4,0.53) (90,0.515) (93.3,0.498) (96,0.49) (99.5,0.48) (102,0.475) (105.5,0.47) (106.4,0.498) (109,0.49) (111.5,0.49) (115,0.48) (117,0.49) (119,0.51) (121,0.48) (124,0.445) (128,0.44) (132.6,0.435) (137,0.43) (142.7,0.41) (147,0.405) (153,0.40) (158,0.405) (164.9,0.41) (169.4,0.42) (173,0.38) (176.5,0.39) (178,0.6) (179.5,2.5) (181,0.6) (183,0.39) (185,0.38) (190,0.38) (195,0.385) (201,0.37) (207,0.357) (213,0.365) (219,0.37) (226,0.368) (234,0.37) (239,0.36) (244,0.357) (251,0.35) (259,0.347) (266,0.345) (274,0.343) (282,0.342) (291,0.34) (296,0.345) (298,0.4) (300,0.36) (301,2.2) (303,0.36) (308,2.45) (311,0.38) (316,2.42) (319,0.36) (322,0.35) (327,0.347) (334,0.34) (340,0.338) (350,0.333) (360,0.335) (370,0.334) (379,0.336) (388,0.336) (400,0.337) (410,0.337) (419,0.338) (430,0.34) (440,0.342) (447,0.343) (460,0.345) (470,0.348) (481,0.35) (490,0.37) (496,0.45) (500,4) (520,4) (524,0.42) (532,0.42) (545,0.425) (552,0.39) (559,0.37) (567,0.375) (572,0.4) (577,0.40) (585,0.375) (597,0.37) (605,0.372) (610,0.55) (613,0.375) (623,0.374) (628,0.38) (631,0.70) (634,0.38) (650,0.385) (670,0.39) (688,0.395) (710,0.405) (735,0.415) (760,0.425) (795,0.435) (830,0.445) (870,0.455) (917,0.465) (950,0.48) (980,0.49) (985,0.49) (990,4) (996,4) (1000,0.5) (1004,0.5) (1008,4) (1016,4) (1020,0.5) (1043,0.507) (1080,0.515) (1110,0.525) (1136,0.535) (1158,0.54) (1161,1.25) (1164,0.54) (1190,0.55) (1222,0.583) (1250,0.59) (1275,0.6) (1296,0.605) (1300,1.32) (1304,0.605) (1330,0.61) (1370,0.625) (1410,0.64) (1452,0.645) (1455,4) (1470,4) (1474,0.7) (1478,4) (1500,4) (1510,0.7) (1550,0.685) (1590,0.70) (1630,0.72) (1690,0.75) (1740,0.78) (1760,0.785) (1765,4) (1775,4) (1780,0.79) (1830,0.82) (1880,0.84) (1930,0.87) (1935,4) (1985,4) (2000,0.9) (2020,0.9) (2080,0.93) (2160,0.97) (2210,0.98) (2215,4) (2225,4) (2230,0.99) (2270,1.0) (2330,1.02) (2380,1.04) (2385,4) (2395,4) (2420,1.05) (2460,1.07) (2490,1.08) (2495,4) (2505,4) (2550,1.1) (2600,1.13) (2640,1.14) (2645,4) (2655,4) (2700,1.16) (2750,1.18) (2785,1.19) (2790,4) (2800,4) (2810,1.2) (2865,1.23) (2870,4) (2880,4) (2900,1.25) (2950,1.28) (3000,1.31)};
\node[anchor=south west, inner sep=1pt, yshift=2pt, font=\fontsize{12.5}{14}\selectfont] at (rel axis cs:0,1) {$\times10^{-23}$};
\end{axis}
\end{tikzpicture}
\end{document}
